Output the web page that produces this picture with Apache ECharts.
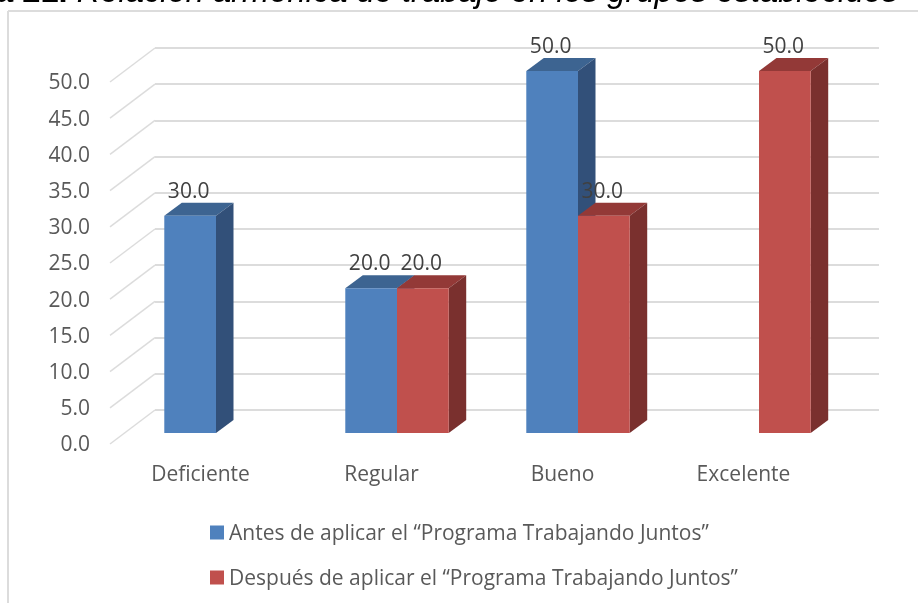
<!DOCTYPE html>
<html><head><meta charset="utf-8">
<style>html,body{margin:0;padding:0;background:#fff}#c{width:918px;height:603px}</style>
<script src="https://cdn.jsdelivr.net/npm/echarts@6/dist/echarts.min.js"></script>
</head><body><div id="c"></div>
<script>
const categories = ['Deficiente','Regular','Bueno','Excelente'];
const antes = [30, 20, 50, null];
const despues = [null, 20, 30, 50];
const yTicks = [0,5,10,15,20,25,30,35,40,45,50];
const serieAntes = 'Antes de aplicar el “Programa Trabajando Juntos”';
const serieDespues = 'Después de aplicar el “Programa Trabajando Juntos”';
const font = '"Open Sans"';

const chart = echarts.init(document.getElementById('c'), null, {renderer:'canvas'});
function cuboid(side, front, top, sideC){
  return function(params, api){
    const v = api.value(1);
    if (v == null || isNaN(v)) return;
    const i = api.value(0);
    const band = api.size([1,0])[0];
    const w = band*2/7;
    const c = api.coord([i, v]);
    const b = api.coord([i, 0]);
    const x = side < 0 ? c[0]-w : c[0], y = c[1], h = b[1]-c[1];
    const dx = 17.5, dy = -13;
    return {type:'group', children:[
      {type:'polygon', shape:{points:[[x,y],[x+dx,y+dy],[x+w+dx,y+dy],[x+w,y]]}, style:{fill:top}},
      {type:'polygon', shape:{points:[[x+w,y],[x+w+dx,y+dy],[x+w+dx,y+h+dy],[x+w,y+h]]}, style:{fill:sideC}},
      {type:'rect', shape:{x:x,y:y,width:w,height:h}, style:{fill:front}},
      {type:'text', z2:50, style:{x:x+w/2-1.5, y:y-24, text:v.toFixed(1), fill:'#404040', font:'21px '+font, align:'center', verticalAlign:'middle'}}
    ]};
  };
}
chart.setOption({
  animation:false,
  backgroundColor:'#fff',
  title:{
    left:-5, top:-24, padding:0,
    text:'{b|a 21. }{i|Relación armónica de trabajo en los grupos establecidos}',
    textStyle:{rich:{
      b:{fontFamily:'Liberation Sans',fontWeight:'bold',fontStyle:'normal',fontSize:32.7,color:'#000'},
      i:{fontFamily:'Liberation Sans',fontWeight:'normal',fontStyle:'italic',fontSize:32.7,color:'#000'}
    }}
  },
  legend:{
    orient:'vertical', left:205, top:519, itemWidth:14, itemHeight:14, itemGap:24,
    icon:'rect', data:[serieAntes, serieDespues],
    formatter:n=>'{a|'+n+'}',
    textStyle:{rich:{a:{fontFamily:font, fontSize:21, color:'#595959', padding:[4,0,0,0]}}}
  },
  grid:[
    {left:125.5, top:71, width:724, height:362},
    {left:110, top:82, width:724, height:362},
    {left:155, top:48, width:724, height:362}
  ],
  xAxis:[
    {gridIndex:0, type:'category', data:categories, show:false},
    {gridIndex:1, type:'category', data:categories, axisLine:{show:false}, axisTick:{show:false}, axisLabel:{margin:21, fontFamily:font, fontSize:21, color:'#595959'}},
    {gridIndex:2, type:'category', data:categories, show:false}
  ],
  yAxis:[
    {gridIndex:0, type:'value', min:0, max:50, interval:5, show:false},
    {gridIndex:1, type:'value', min:0, max:50, interval:5, axisLine:{show:false}, axisTick:{show:false}, splitLine:{show:false},
     axisLabel:{margin:20, formatter:v=>'{a|'+v.toFixed(1)+'}', rich:{a:{padding:[3,0,0,0], fontFamily:font, fontSize:21, color:'#595959'}}}},
    {gridIndex:2, type:'value', min:0, max:50, interval:5, axisLine:{show:false}, axisTick:{show:false}, axisLabel:{show:false},
     splitLine:{show:true, lineStyle:{color:'#dcdcdc', width:2}}}
  ],
  series:[
    {type:'custom', name:'paredLateral', xAxisIndex:1, yAxisIndex:1, silent:true, z:1, clip:false,
     data:yTicks.map(t=>[0,t]), encode:{x:0,y:1},
     renderItem:(p,api)=>{
       const y = api.coord([0,api.value(1)])[1], x = p.coordSys.x;
       return {type:'line', shape:{x1:x,y1:y,x2:x+45,y2:y-34}, style:{stroke:'#dcdcdc', lineWidth:1.5}};
     }},
    {type:'custom', name:serieAntes, xAxisIndex:0, yAxisIndex:0, z:3, clip:false,
     itemStyle:{color:'#4f81bd'},
     data:antes.map((v,i)=>[i,v]), encode:{x:0,y:1},
     renderItem:cuboid(-1,'#4f81bd','#3d6491','#325079')},
    {type:'custom', name:serieDespues, xAxisIndex:0, yAxisIndex:0, z:4, clip:false,
     itemStyle:{color:'#c0504d'},
     data:despues.map((v,i)=>[i,v]), encode:{x:0,y:1},
     renderItem:cuboid(1,'#c0504d','#933937','#7a302e')}
  ],
  graphic:[
    {type:'line', silent:true, z:0, shape:{x1:8,y1:11,x2:918,y2:11}, style:{stroke:'#dcdcdc',lineWidth:2}},
    {type:'line', silent:true, z:0, shape:{x1:8,y1:11,x2:8,y2:603}, style:{stroke:'#dcdcdc',lineWidth:2}}
  ]
});
</script></body></html>
